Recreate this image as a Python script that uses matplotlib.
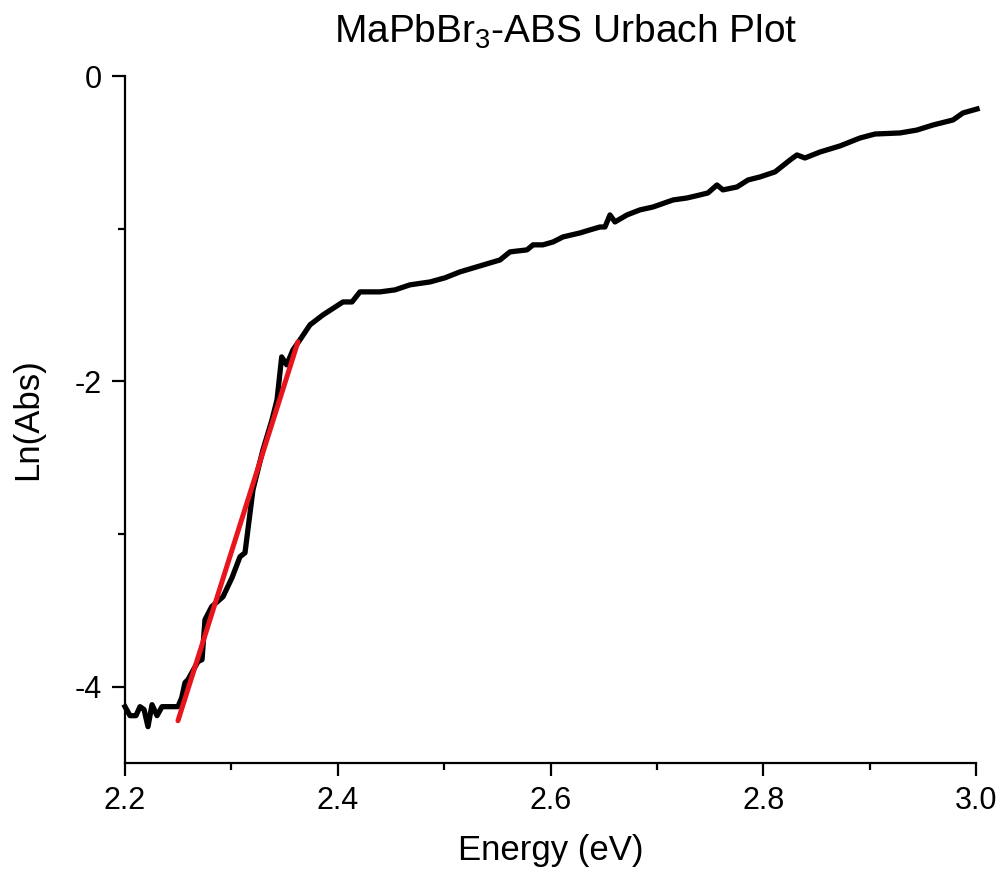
import matplotlib
matplotlib.use("Agg")
import matplotlib.pyplot as plt
from matplotlib.ticker import MultipleLocator

plt.rcParams['font.family'] = ['Liberation Sans', 'DejaVu Sans']
plt.rcParams['mathtext.default'] = 'regular'

energy = [2.200, 2.2047, 2.2103, 2.2141, 2.2179, 2.2216, 2.2254, 2.2301, 2.2348, 2.2423, 2.2498,
          2.2533, 2.2564, 2.2592, 2.2686, 2.2724, 2.2752, 2.2815, 2.2921, 2.3006, 2.3081, 2.3128,
          2.3203, 2.3297, 2.3382, 2.3429, 2.3473, 2.3520, 2.3579, 2.3645, 2.3739, 2.3861, 2.4049,
          2.4134, 2.4209, 2.4397, 2.4538, 2.4679, 2.4867, 2.5008, 2.5149, 2.5337, 2.5525, 2.5619,
          2.5779, 2.5836, 2.5929, 2.6024, 2.6118, 2.6277, 2.6371, 2.6465, 2.6512, 2.6559, 2.6606,
          2.6719, 2.6841, 2.6964, 2.7152, 2.7283, 2.7405, 2.7480, 2.7565, 2.7621, 2.7753, 2.7857,
          2.7970, 2.8111, 2.8252, 2.8317, 2.8392, 2.8533, 2.8722, 2.8910, 2.9051, 2.9286, 2.9445,
          2.9596, 2.9784, 2.9878, 3.0010]
ln_abs = [-4.131, -4.190, -4.190, -4.131, -4.150, -4.262, -4.118, -4.190, -4.131, -4.131, -4.131,
          -4.072, -3.974, -3.954, -3.836, -3.823, -3.561, -3.476, -3.411, -3.286, -3.149, -3.123,
          -2.710, -2.448, -2.252, -2.121, -1.840, -1.892, -1.794, -1.728, -1.630, -1.565, -1.480,
          -1.480, -1.414, -1.414, -1.401, -1.368, -1.349, -1.322, -1.283, -1.244, -1.205, -1.152,
          -1.139, -1.106, -1.106, -1.087, -1.054, -1.028, -1.008, -0.989, -0.989, -0.910, -0.956,
          -0.910, -0.877, -0.858, -0.812, -0.799, -0.779, -0.766, -0.714, -0.746, -0.727, -0.681,
          -0.661, -0.628, -0.550, -0.517, -0.537, -0.498, -0.458, -0.406, -0.380, -0.373, -0.354,
          -0.321, -0.288, -0.242, -0.216]

fit_energy = [2.2498, 2.3626]
fit_ln_abs = [-4.223, -1.741]

fig = plt.figure(figsize=(10.01, 8.71), dpi=100)
ax = fig.add_axes([125/1001, 1 - 763/871, (976-125)/1001, (763-76)/871])

ax.plot(energy, ln_abs, color='black', lw=3.8, solid_joinstyle='round', clip_on=False, zorder=2)
ax.plot(fit_energy, fit_ln_abs, color='#e8161c', lw=3.6, solid_capstyle='round', zorder=3)

ax.set_xlim(2.2, 3.0)
ax.set_ylim(-4.5, 0)
ax.xaxis.set_minor_locator(MultipleLocator(0.1))
ax.yaxis.set_minor_locator(MultipleLocator(1))
ax.set_xticks([2.2, 2.4, 2.6, 2.8, 3.0])
ax.set_xticklabels(['2.2', '2.4', '2.6', '2.8', '3.0'])
ax.set_yticks([0, -2, -4])
ax.set_yticklabels(['0', '-2', '-4'])

for s in ['top', 'right']:
    ax.spines[s].set_visible(False)
for s in ['left', 'bottom']:
    ax.spines[s].set_linewidth(1.6)
ax.tick_params(which='major', direction='out', length=9.5, width=1.6, labelsize=22, pad=7)
ax.tick_params(which='minor', direction='out', length=5, width=1.6)

ax.set_xlabel('Energy (eV)', fontsize=25, labelpad=13)
ax.set_ylabel('Ln(Abs)', fontsize=25, labelpad=22)
fig.text(0.5655, 0.963, r'MaPbBr$_3$-ABS Urbach Plot', fontsize=28, ha='center', va='center')

fig.savefig('out.png', dpi=100)
